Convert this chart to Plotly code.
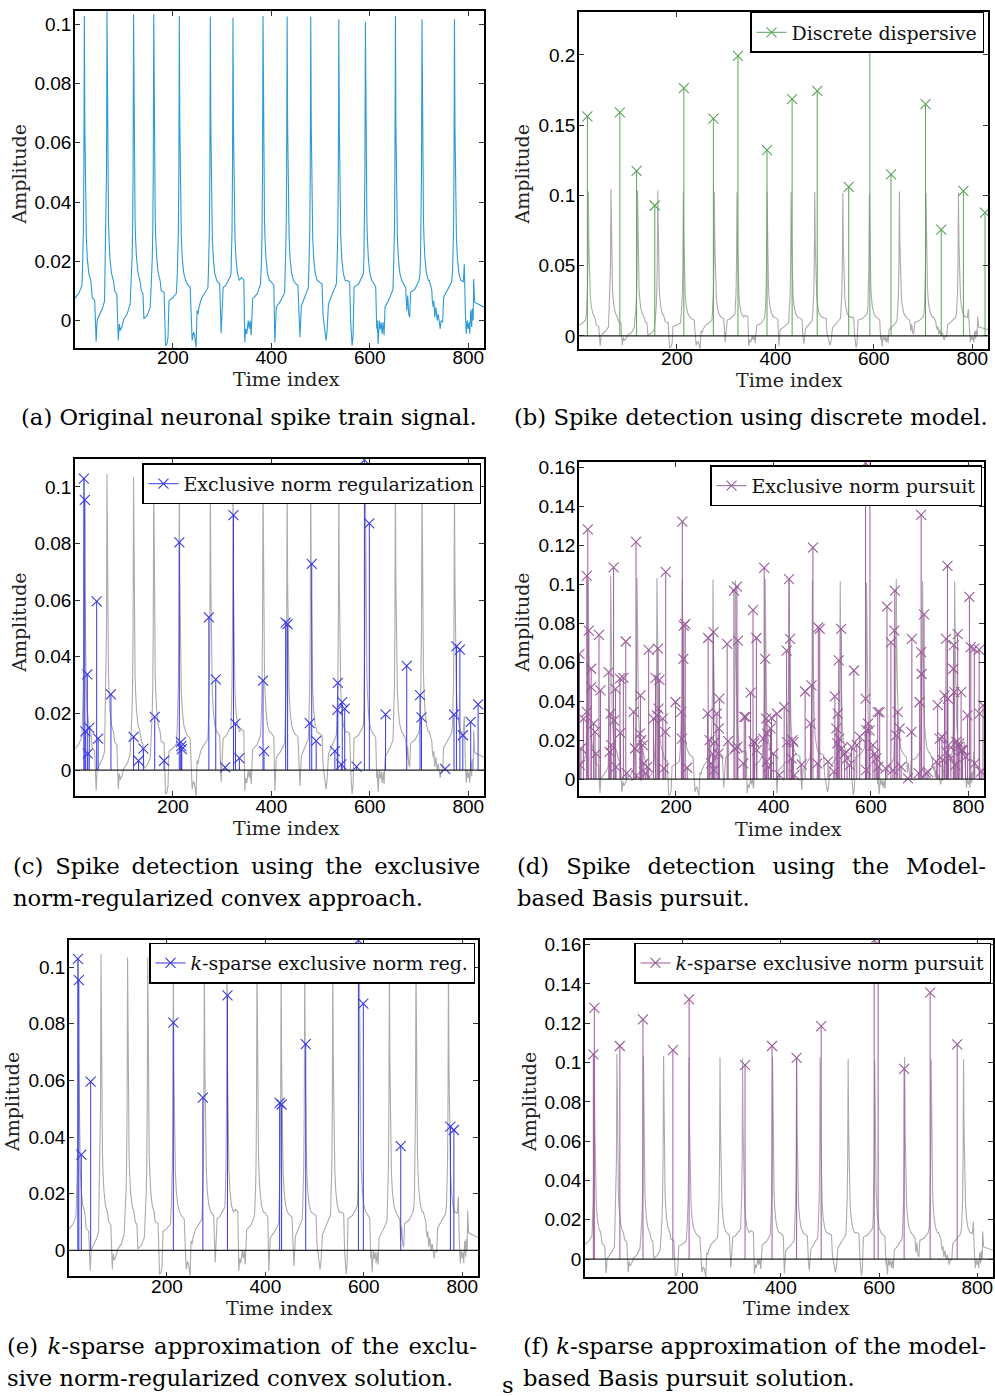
import plotly.graph_objects as go

FIG_W, FIG_H = 995, 1396
X_RANGE = [1, 832]

# ---------------- signal ----------------
SPIKE_TIMES = [20, 66, 120, 161, 213, 276, 322, 383, 432, 480, 537, 591, 652, 706, 772]
SPIKE_PEAKS = [0.1028, 0.1045, 0.1034, 0.1034, 0.1028, 0.1026, 0.1022, 0.1028,
               0.1026, 0.1026, 0.1017, 0.1009, 0.1028, 0.1017, 0.1017]
# needle shape around every spike: offset from peak, amplitude
SPIKE_SHAPE_DX = [-4, -3, -2, -1, 1, 2, 3, 4, 6, 9, 13]
SPIKE_SHAPE_Y = [0.016, 0.021, 0.030, 0.050, 0.066, 0.044, 0.034, 0.028, 0.021, 0.016, 0.0135]

TRACE_START = [(1, 0.0075), (5, 0.0083), (9, 0.0093), (12, 0.0105), (15, 0.0118)]
BETWEEN_SPIKES = [
    [(36, 0.0078), (41, 0.0068), (44, -0.0072), (46, 0.0002), (52, 0.0022), (57, 0.0042), (61, 0.0065)],
    [(82, 0.0098), (86, 0.009), (89, -0.0067), (91, -0.0012), (93, -0.0034), (96, -0.0022),
     (100, 0.0005), (107, 0.0022), (113, 0.0055)],
    [(136, 0.0098), (139, 0.0092), (141, 0.0006), (148, 0.0018), (154, 0.0045)],
    [(176, 0.0101), (182, 0.0095), (185, -0.0085), (188, -0.0078), (190, -0.0055), (192, 0.0067),
     (199, 0.0076), (207, 0.0092)],
    [(229, 0.0123), (235, 0.0112), (239, -0.0067), (242, -0.0039), (244, -0.005), (247, -0.0092),
     (249, 0.0034), (251, 0.0022), (253, 0.0045), (258, 0.0075), (265, 0.0095), (271, 0.011)],
    [(292, 0.0129), (295, 0.0123), (298, -0.0043), (299, -0.0002), (300, -0.0008), (302, 0.0112),
     (307, 0.0118), (313, 0.0135), (317, 0.015)],
    [(339, 0.0145), (344, 0.0137), (346, -0.0073), (348, -0.0028), (350, -0.0045), (353, 0.0),
     (355, -0.0028), (357, 0.0), (359, -0.005), (362, 0.0073), (371, 0.009), (378, 0.0123)],
    [(399, 0.0133), (403, 0.0123), (405, 0.0118), (407, -0.0073), (410, 0.0045), (419, 0.0067), (427, 0.0095)],
    [(449, 0.0125), (454, 0.0118), (456, -0.001), (458, -0.0056), (461, 0.005), (469, 0.0085), (475, 0.011)],
    [(497, 0.013), (503, 0.0123), (505, 0.0017), (508, -0.0022), (511, -0.0067), (513, -0.004),
     (516, 0.0056), (525, 0.0095), (532, 0.0123)],
    [(554, 0.0135), (559, 0.013), (561, 0.0), (564, -0.0084), (566, -0.005), (568, 0.0112),
     (577, 0.0123), (585, 0.015)],
    [(609, 0.0123), (612, 0.0112), (614, -0.0028), (615, 0.0), (617, -0.0078), (619, 0.0),
     (621, -0.003), (623, -0.0006), (625, -0.0045), (627, -0.0006), (629, -0.005), (631, 0.0045),
     (640, 0.0075), (647, 0.0105)],
    [(670, 0.0118), (673, 0.011), (675, 0.0034), (677, 0.0084), (679, 0.0022), (681, 0.0011),
     (683, 0.0095), (692, 0.0107), (700, 0.0135)],
    [(721, 0.0135), (726, 0.0101), (727, 0.0067), (729, 0.0045), (730, 0.0067), (732, 0.0011),
     (734, 0.0045), (737, 0.0), (739, 0.0022), (741, -0.0011), (743, -0.0028), (745, 0.0),
     (748, -0.0006), (750, 0.0079), (759, 0.0107), (766, 0.0129)],
    [(786, 0.0135), (790, 0.013), (792, 0.019), (794, 0.0034), (796, -0.0045), (798, 0.0),
     (800, -0.0028), (802, -0.0006), (803, -0.0045), (805, 0.0034), (807, -0.0022), (808, 0.004),
     (810, 0.0), (811, 0.014), (813, 0.0062), (832, 0.0045)],
]

# ---------------- detections ----------------
DISC_X = [18, 84, 118, 155, 214, 274, 324, 383, 434, 485, 549, 592, 635, 705, 737, 782, 826]
DISC_Y = [0.1563, 0.1591, 0.1174, 0.0928, 0.1764, 0.1547, 0.1993, 0.1322, 0.1686, 0.1745,
          0.106, 0.2302, 0.115, 0.165, 0.0756, 0.1032, 0.0878]

EXCL_X = [19, 21, 22, 26, 27, 30, 45, 48, 74, 120, 130, 140, 163, 182, 213, 216, 217, 218,
          273, 287, 306, 323, 327, 335, 383, 385, 429, 433, 478, 482, 491, 529, 534, 535, 542,
          544, 549, 573, 589, 599, 632, 675, 702, 705, 753, 771, 776, 783, 789, 805, 820]
EXCL_Y = [0.1029, 0.0954, 0.0137, 0.0338, 0.0058, 0.0149, 0.0596, 0.0111, 0.0267, 0.0117,
          0.0033, 0.0076, 0.0188, 0.0033, 0.0804, 0.0099, 0.0085, 0.0074, 0.0539, 0.032,
          0.001, 0.09, 0.0164, 0.0042, 0.0316, 0.0067, 0.0521, 0.0515, 0.0166, 0.0728,
          0.0103, 0.0067, 0.0213, 0.0308, 0.002, 0.024, 0.0217, 0.0012, 0.1095, 0.0871,
          0.0197, 0.0368, 0.0265, 0.0186, 0.0004, 0.0196, 0.0437, 0.0425, 0.0123, 0.017, 0.0232]

KEXCL_X = [19, 21, 26, 45, 213, 273, 323, 429, 433, 482, 589, 599, 675, 776, 783]
KEXCL_Y = [0.1029, 0.0954, 0.0338, 0.0596, 0.0804, 0.0539, 0.09, 0.0521, 0.0515, 0.0728,
           0.1095, 0.0871, 0.0368, 0.0437, 0.0425]

PURS_X = [
    2, 3, 5, 10, 17, 17, 19, 21, 26, 26,
    31, 34, 36, 42, 45, 62, 64, 66, 67, 72,
    73, 76, 77, 85, 86, 92, 97, 99, 113, 116,
    118, 119, 126, 127, 129, 132, 134, 137, 141, 144,
    154, 158, 161, 163, 164, 166, 173, 175, 178, 179,
    199, 211, 212, 213, 215, 216, 219, 223, 265, 266,
    269, 272, 275, 277, 278, 280, 284, 287, 288, 289,
    305, 307, 319, 321, 325, 326, 327, 338, 340, 343,
    353, 358, 359, 361, 365, 366, 379, 381, 383, 385,
    386, 387, 390, 394, 396, 400, 407, 412, 422, 427,
    428, 432, 434, 437, 439, 441, 443, 458, 465, 476,
    478, 481, 490, 492, 495, 512, 524, 526, 529, 531,
    532, 534, 535, 539, 540, 546, 551, 556, 560, 565,
    571, 577, 589, 589, 590, 591, 594, 597, 598, 604,
    608, 611, 614, 615, 618, 630, 633, 641, 645, 648,
    649, 652, 655, 659, 662, 676, 683, 684, 698, 700,
    703, 703, 704, 709, 713, 717, 734, 737, 741, 746,
    747, 751, 754, 755, 757, 758, 759, 764, 769, 770,
    771, 773, 775, 778, 780, 781, 785, 786, 788, 794,
    798, 802, 805, 812, 813, 822, 823, 826, 830]
PURS_Y = [
    0.0644, 0.0072, 0.0157, 0.031, 0.1045, 0.0345, 0.1284, 0.0763, 0.0567, 0.0473,
    0.0285, 0.0242, 0.0131, 0.0741, 0.0456, 0.055, 0.014, 0.0336, 0.0174, 0.1088,
    0.0302, 0.0464, 0.0063, 0.0516, 0.0237, 0.052, 0.0707, 0.003, 0.0345, 0.0157,
    0.1219, 0.0017, 0.0234, 0.043, 0.02, 0.0174, 0.008, 0.003, 0.0063, 0.0664,
    0.031, 0.052, 0.0327, 0.067, 0.0362, 0.051, 0.031, 0.0055, 0.0242, 0.1065,
    0.0396, 0.0345, 0.0208, 0.1323, 0.0618, 0.0789, 0.0797, 0.0058, 0.0336, 0.0725,
    0.02, 0.008, 0.0131, 0.0755, 0.0046, 0.0191, 0.0336, 0.0131, 0.026, 0.0413,
    0.0695, 0.0195, 0.0968, 0.0157, 0.0989, 0.0165, 0.0711, 0.008, 0.0319, 0.0319,
    0.0444, 0.0868, 0.0195, 0.0186, 0.0725, 0.0149, 0.0208, 0.1086, 0.0618, 0.031,
    0.0089, 0.0234, 0.0063, 0.026, 0.0314, 0.0131, 0.0336, 0.002, 0.037, 0.066,
    0.019, 0.1028, 0.072, 0.0106, 0.02, 0.019, 0.002, 0.0075, 0.045, 0.0285,
    0.0482, 0.119, 0.008, 0.078, 0.0772, 0.009, 0.0038, 0.0425, 0.026, 0.0183,
    0.0336, 0.061, 0.0208, 0.0772, 0.0157, 0.013, 0.0106, 0.0072, 0.0165, 0.0558,
    0.0174, 0.0217, 0.1625, 0.0413, 0.0046, 0.0251, 0.0285, 0.025, 0.2, 0.0174,
    0.0131, 0.0106, 0.0344, 0.0063, 0.0344, 0.0055, 0.0886, 0.0703, 0.0046, 0.0763,
    0.0968, 0.0225, 0.0344, 0.026, 0.0063, 0.0003, 0.0242, 0.072, 0.003, 0.0396,
    0.1358, 0.0652, 0.054, 0.0846, 0.003, 0.0037, 0.0089, 0.038, 0.0208, 0.0217,
    0.0097, 0.043, 0.072, 0.014, 0.1096, 0.0413, 0.0174, 0.0106, 0.0567, 0.0688,
    0.0447, 0.0072, 0.0191, 0.0745, 0.0166, 0.0183, 0.0447, 0.0149, 0.0148, 0.0114,
    0.0327, 0.0937, 0.0678, 0.067, 0.008, 0.0664, 0.0336, 0.0038, 0.0379]

KPURS_X = [18, 20, 72, 119, 180, 213, 327, 382, 432, 482, 590, 598, 651, 704, 759]
KPURS_Y = [0.1041, 0.1278, 0.1084, 0.1219, 0.1063, 0.1321, 0.0987, 0.1084, 0.1024, 0.1185,
           0.1622, 0.2, 0.0968, 0.1355, 0.1092]

X_TICKS = [200, 400, 600, 800]
Y_TICKS_01 = [0, 0.02, 0.04, 0.06, 0.08, 0.1]
Y_TICKS_B = [0, 0.05, 0.1, 0.15, 0.2]
Y_TICKS_16 = [0, 0.02, 0.04, 0.06, 0.08, 0.1, 0.12, 0.14, 0.16]

LEGEND_NAMES = {
    'b': 'Discrete dispersive',
    'c': 'Exclusive norm regularization',
    'd': 'Exclusive norm pursuit',
    'e': '<i>k</i>-sparse exclusive norm reg.',
    'f': '<i>k</i>-sparse exclusive norm pursuit',
}
# caption text, x, y (pixels), anchor, extra word gap used to justify the line
CAPTIONS = [
    ('(a) Original neuronal spike train signal.', 249, 413, 'center', ''),
    ('(b) Spike detection using discrete model.', 751, 413, 'center', ''),
    ('(c) Spike detection using the exclusive', 11, 864, 'left', '\u2009'),
    ('norm-regularized convex approach.', 11, 896, 'left', ''),
    ('(d) Spike detection using the Model-', 515, 864, 'left', '\u2004\u200a'),
    ('based Basis pursuit.', 515, 896, 'left', ''),
    ('(e) <i>k</i>-sparse approximation of the exclu-', 5, 1346, 'left', '\u200a'),
    ('sive norm-regularized convex solution.', 5, 1378, 'left', ''),
    ('(f) <i>k</i>-sparse approximation of the model-', 521, 1346, 'left', ''),
    ('based Basis pursuit solution.', 521, 1378, 'left', ''),
    ('s', 508, 1385, 'center', ''),
]

# ---------------- style ----------------
BLUE_SIG = '#2e9ad6'
GRAY = '#ababab'
GREEN = '#5aa35a'
BLUE = '#3a3ae4'
PURPLE = '#9a5c9a'
TICK_FONT = dict(family='Liberation Sans, Arial, sans-serif', size=19, color='black')
SERIF = 'DejaVu Serif, serif'
CAPTION_SIZE = 22.7

# panel boxes in pixels: left, top, right, bottom
PANELS = {
    'a': (75, 6, 484, 344),
    'b': (579, 7, 988, 345),
    'c': (75, 456, 484, 794),
    'd': (579, 459, 984, 794),
    'e': (69, 938, 478, 1276),
    'f': (585, 938, 993, 1277),
}
Y_RANGES = {
    'a': [-0.0092, 0.1045], 'b': [-0.0092, 0.2306], 'c': [-0.0092, 0.1097],
    'd': [-0.0088, 0.1628], 'e': [-0.0092, 0.1097], 'f': [-0.0093, 0.1625],
}
Y_TICKS = {'a': Y_TICKS_01, 'b': Y_TICKS_B, 'c': Y_TICKS_01,
           'd': Y_TICKS_16, 'e': Y_TICKS_01, 'f': Y_TICKS_16}
# x-axis title centre, y-axis title centre (pixels)
XTITLE = {'a': (286, 375), 'b': (789, 376), 'c': (286, 826), 'd': (788, 827),
          'e': (279, 1308), 'f': (796, 1308)}
YTITLE = {'a': (19, 170), 'b': (522, 170), 'c': (19, 620), 'd': (522, 620),
          'e': (12, 1101), 'f': (529, 1101)}
LEGEND_POS = {'b': (984, 7), 'c': (481, 460), 'd': (982, 462), 'e': (475, 941), 'f': (991, 941)}


def px_x(p):
    return p / FIG_W


def px_y(p):
    return 1 - p / FIG_H


def tick_text(v):
    return '0' if v == 0 else ('%g' % v)


# build the signal polyline
sig_x = [p[0] for p in TRACE_START]
sig_y = [p[1] for p in TRACE_START]
for t, pk, seg in zip(SPIKE_TIMES, SPIKE_PEAKS, BETWEEN_SPIKES):
    for dx, v in zip(SPIKE_SHAPE_DX, SPIKE_SHAPE_Y):
        if dx < 0:
            sig_x.append(t + dx); sig_y.append(v)
    sig_x.append(t); sig_y.append(pk)
    for dx, v in zip(SPIKE_SHAPE_DX, SPIKE_SHAPE_Y):
        if dx > 0:
            sig_x.append(t + dx); sig_y.append(v)
    for x, y in seg:
        sig_x.append(x); sig_y.append(y)


def stem_xy(xs, ys):
    sx, sy = [], []
    for x, y in zip(xs, ys):
        sx += [x, x, None]
        sy += [0, y, None]
    return sx, sy


fig = go.Figure()
keys = ['a', 'b', 'c', 'd', 'e', 'f']
axis_ids = {k: ('' if i == 0 else str(i + 1)) for i, k in enumerate(keys)}
legend_ids = {'b': 'legend', 'c': 'legend2', 'd': 'legend3', 'e': 'legend4', 'f': 'legend5'}
stems = {'b': (DISC_X, DISC_Y, GREEN), 'c': (EXCL_X, EXCL_Y, BLUE), 'd': (PURS_X, PURS_Y, PURPLE),
         'e': (KEXCL_X, KEXCL_Y, BLUE), 'f': (KPURS_X, KPURS_Y, PURPLE)}

shapes = []
annotations = []
layout = {}
for k in keys:
    aid = axis_ids[k]
    xa, ya = 'x' + aid, 'y' + aid
    l, t, r, b = PANELS[k]
    layout['xaxis' + aid] = dict(
        domain=[px_x(l), px_x(r)], range=X_RANGE, anchor=ya,
        tickvals=X_TICKS, ticktext=[str(v) for v in X_TICKS],
        ticks='inside', ticklen=5, tickwidth=1, tickcolor='#333333', ticklabelstandoff=-8,
        showline=True, linecolor='black', linewidth=1.5, mirror='ticks',
        showgrid=False, zeroline=False, tickfont=TICK_FONT)
    layout['yaxis' + aid] = dict(
        domain=[px_y(b), px_y(t)], range=Y_RANGES[k], anchor=xa,
        tickvals=Y_TICKS[k], ticktext=[tick_text(v) for v in Y_TICKS[k]],
        ticks='inside', ticklen=5, tickwidth=1, tickcolor='#333333', ticklabelstandoff=-2,
        showline=True, linecolor='black', linewidth=1.5, mirror='ticks',
        showgrid=False, zeroline=False, tickfont=TICK_FONT)

    fig.add_trace(go.Scatter(x=sig_x, y=sig_y, mode='lines', xaxis=xa, yaxis=ya,
                             line=dict(color=BLUE_SIG if k == 'a' else GRAY, width=1.1),
                             showlegend=False, hoverinfo='skip'))
    if k != 'a':
        xs, ys, col = stems[k]
        shapes.append(dict(type='line', xref=xa + ' domain', yref=ya, x0=0, x1=1, y0=0, y1=0,
                           line=dict(color='#222222', width=1.2)))
        sx, sy = stem_xy(xs, ys)
        fig.add_trace(go.Scatter(x=sx, y=sy, mode='lines', xaxis=xa, yaxis=ya,
                                 line=dict(color=col, width=1), showlegend=False, hoverinfo='skip'))
        fig.add_trace(go.Scatter(x=xs, y=ys, mode='markers', xaxis=xa, yaxis=ya,
                                 marker=dict(symbol='x-thin', size=10, color=col,
                                             line=dict(color=col, width=1.1)),
                                 showlegend=False))
        fig.add_trace(go.Scatter(x=[None], y=[None], mode='lines+markers', xaxis=xa, yaxis=ya,
                                 name=LEGEND_NAMES[k], legend=legend_ids[k],
                                 line=dict(color=col, width=1),
                                 marker=dict(symbol='x-thin', size=10, color=col,
                                             line=dict(color=col, width=1.1))))
        lx, ly = LEGEND_POS[k]
        layout[legend_ids[k]] = dict(
            x=px_x(lx), y=px_y(ly), xanchor='right', yanchor='top',
            bgcolor='white', bordercolor='black', borderwidth=1.5,
            font=dict(family=SERIF, size=19, color='#111111'))

    tx, ty = XTITLE[k]
    annotations.append(dict(text='Time index', x=px_x(tx), y=px_y(ty), xref='paper', yref='paper',
                            showarrow=False, xanchor='center', yanchor='middle',
                            font=dict(family=SERIF, size=19, color='#222222')))
    vx, vy = YTITLE[k]
    annotations.append(dict(text='Amplitude', x=px_x(vx), y=px_y(vy), xref='paper', yref='paper',
                            showarrow=False, xanchor='center', yanchor='middle', textangle=-90,
                            font=dict(family=SERIF, size=19, color='#222222')))

for text, cx, cy, anchor, gap in CAPTIONS:
    shown = text.replace(' ', ' ' + gap) if gap else text
    annotations.append(dict(text=shown, x=px_x(cx), y=px_y(cy), xref='paper', yref='paper',
                            showarrow=False, xanchor=anchor, yanchor='middle',
                            font=dict(family=SERIF, size=CAPTION_SIZE, color='black')))

fig.update_layout(
    width=FIG_W, height=FIG_H,
    margin=dict(l=0, r=0, t=0, b=0),
    paper_bgcolor='white', plot_bgcolor='white',
    shapes=shapes, annotations=annotations,
    **layout)

fig.write_html('out.html')
